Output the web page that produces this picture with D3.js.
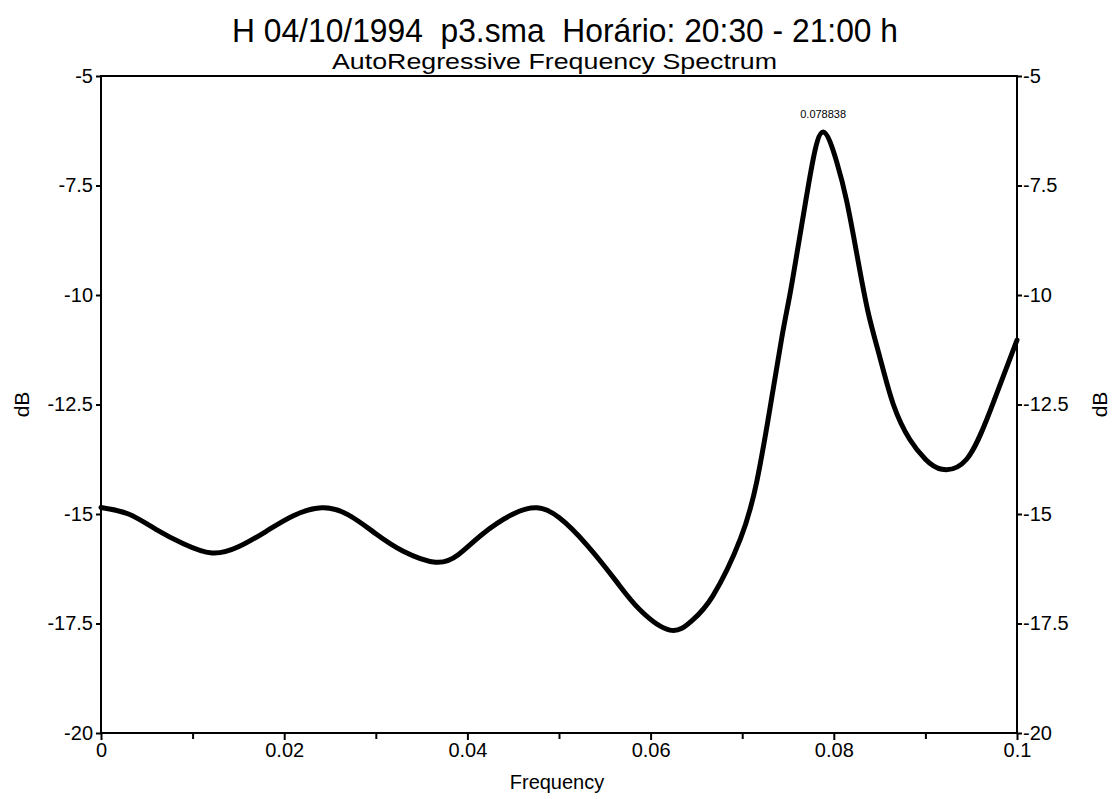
<!DOCTYPE html>
<html>
<head>
<meta charset="utf-8">
<script src="https://cdn.jsdelivr.net/npm/d3@7"></script>
<style>
  html, body { margin: 0; padding: 0; background: #fff; }
  svg { display: block; }
  text { font-family: "Liberation Sans", Arial, sans-serif; fill: #000; }
</style>
</head>
<body>
<svg id="chart" width="1115" height="799"></svg>
<script>
// AR spectrum estimate: frequency (cycles/sample) and power (dB)
const frequency = [0, 0.003, 0.006, 0.009, 0.0121, 0.015, 0.018, 0.021, 0.0241,
  0.027, 0.030, 0.033, 0.0365, 0.039, 0.0417, 0.045, 0.0476,
  0.050, 0.0531, 0.0563, 0.0588, 0.0621, 0.0645, 0.0668, 0.0698, 0.0716, 0.0730, 0.0743,
  0.0752, 0.0760, 0.0769, 0.0777, 0.078838, 0.0803, 0.0814, 0.0825, 0.0837, 0.0850,
  0.0865, 0.0883, 0.0900, 0.0918, 0.0945, 0.0971, 0.1];
const powerDb = [-14.85, -15.00, -15.35, -15.68, -15.89, -15.75, -15.40, -15.04, -14.86,
  -15.02, -15.45, -15.85, -16.10, -15.93, -15.45, -15.00, -14.86,
  -15.08, -15.72, -16.55, -17.18, -17.65, -17.44, -16.87, -15.57, -14.25, -12.63, -11.00,
  -10.00, -9.02, -7.90, -6.95, -6.28, -6.95, -7.85, -9.05, -10.35, -11.40,
  -12.50, -13.30, -13.75, -13.98, -13.75, -12.63, -11.03];

const xTicks = [0, 0.02, 0.04, 0.06, 0.08, 0.1];
const xMinorTicks = [0.01, 0.03, 0.05, 0.07, 0.09];
const yTicks = [-5, -7.5, -10, -12.5, -15, -17.5, -20];
const peakFreq = 0.078838;
const peakLabel = "0.078838";

const title = "H 04/10/1994  p3.sma  Horário: 20:30 - 21:00 h";
const subtitle = "AutoRegressive Frequency Spectrum";

const svg = d3.select("#chart");
const m = { left: 101, right: 1017, top: 76, bottom: 733 };

const x = d3.scaleLinear().domain([0, 0.1]).range([m.left, m.right]);
const y = d3.scaleLinear().domain([-20, -5]).range([m.bottom, m.top]);
const fmt = d => String(d);   // plain hyphen-minus, as the plotting package prints

// titles (narrow typeface look: compressed horizontally)
svg.append("text").attr("x", 232).attr("y", 42)
  .attr("font-size", 33).attr("xml:space", "preserve").style("white-space", "pre")
  .attr("textLength", 666).attr("lengthAdjust", "spacingAndGlyphs").text(title);
svg.append("text").attr("x", 332).attr("y", 69)
  .attr("font-size", 22)
  .attr("textLength", 445).attr("lengthAdjust", "spacingAndGlyphs").text(subtitle);

// frame
svg.append("rect").attr("x", m.left).attr("y", m.top)
  .attr("width", m.right - m.left).attr("height", m.bottom - m.top)
  .attr("fill", "none").attr("stroke", "#000").attr("stroke-width", 2);

// bottom axis
const xAxis = svg.append("g").attr("transform", `translate(0,${m.bottom})`)
  .call(d3.axisBottom(x).tickValues(xTicks).tickSize(7).tickPadding(3).tickFormat(fmt));
xAxis.select(".domain").remove();
xAxis.selectAll("line").attr("stroke-width", 2);
xAxis.selectAll("text").attr("font-size", 20);
svg.append("g").attr("transform", `translate(0,${m.bottom})`)
  .call(d3.axisBottom(x).tickValues(xMinorTicks).tickSize(6).tickFormat(""))
  .call(g => g.select(".domain").remove())
  .selectAll("line").attr("stroke-width", 2);

// left axis
const yl = svg.append("g").attr("transform", `translate(${m.left},0)`)
  .call(d3.axisLeft(y).tickValues(yTicks).tickSize(5).tickPadding(3).tickFormat(fmt));
yl.select(".domain").remove();
yl.selectAll("line").attr("stroke-width", 2);
yl.selectAll("text").attr("font-size", 20);

// right axis
const yr = svg.append("g").attr("transform", `translate(${m.right},0)`)
  .call(d3.axisRight(y).tickValues(yTicks).tickSize(5).tickPadding(1).tickFormat(fmt));
yr.select(".domain").remove();
yr.selectAll("line").attr("stroke-width", 2);
yr.selectAll("text").attr("font-size", 20);

// axis titles
svg.append("text").attr("x", 557).attr("y", 789).attr("text-anchor", "middle")
  .attr("font-size", 20).text("Frequency");
svg.append("text").attr("transform", `translate(29,${y(-12.5)}) rotate(-90)`)
  .attr("text-anchor", "middle").attr("font-size", 21).text("dB");
svg.append("text").attr("transform", `translate(1107,${y(-12.5)}) rotate(-90)`)
  .attr("text-anchor", "middle").attr("font-size", 21).text("dB");

// spectrum curve (natural cubic spline through the estimates)
const pts = frequency.map((f, i) => [f, powerDb[i]]);
const line = d3.line().x(d => x(d[0])).y(d => y(d[1])).curve(d3.curveNatural);
svg.append("path").datum(pts).attr("d", line)
  .attr("fill", "none").attr("stroke", "#000").attr("stroke-width", 5)
  .attr("stroke-linejoin", "round").attr("stroke-linecap", "round");

// peak annotation
const peakDb = powerDb[frequency.indexOf(peakFreq)];
svg.append("text").attr("x", x(peakFreq)).attr("y", y(peakDb) - 14)
  .attr("text-anchor", "middle").attr("font-size", 11).text(peakLabel);
</script>
</body>
</html>
